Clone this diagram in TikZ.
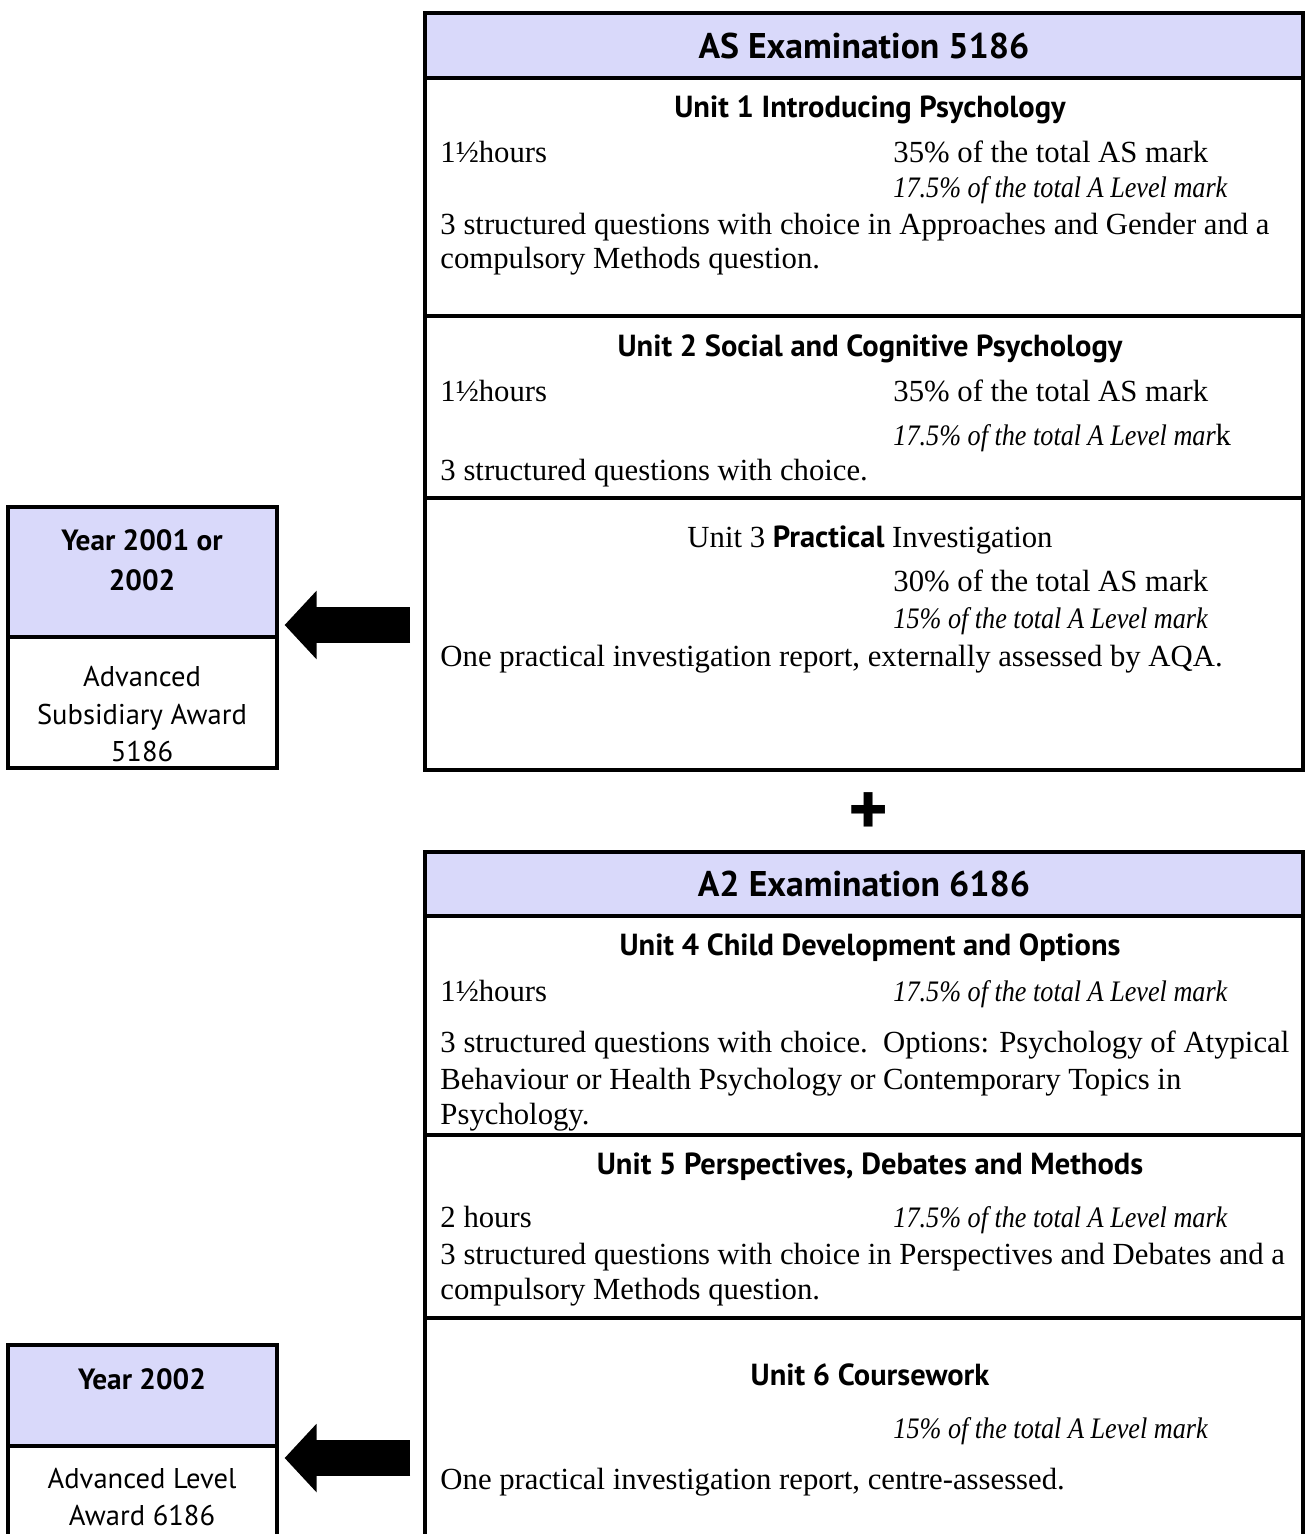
\documentclass[tikz,border=0pt]{standalone}
\usepackage{fontspec}
\setmainfont{Liberation Serif}
\newfontfamily\headfont{PT Sans}
\newfontface\sharefont{Liberation Serif Italic}[FakeStretch=0.88]
\usetikzlibrary{positioning,fit,arrows.meta}
\definecolor{headblue}{RGB}{217,217,250}

\tikzset{
  sect/.style={draw, line width=1.4pt, inner sep=0pt},
  headsect/.style={sect, fill=headblue},
  title/.style={font=\headfont\bfseries\fontsize{15}{18}\selectfont},
  unithead/.style={font=\headfont\bfseries\fontsize{12.8}{15}\selectfont, anchor=base},
  body/.style={font=\fontsize{12.9}{15}\selectfont, anchor=base west, inner sep=0pt},
  share/.style={body, font=\sharefont\fontsize{12.5}{15}\selectfont},
  award/.style={font=\headfont\fontsize{12}{15.7}\selectfont, align=center, anchor=north},
  bigarrow/.style={line width=15pt, -{Triangle[length=13.4pt,width=28pt]},
                   shorten >=2.5pt, shorten <=5.5pt}
}

\begin{document}
\begin{tikzpicture}[x=0.42pt, y=-0.42pt]
    \useasboundingbox (0,0) rectangle (1305,1534);

    % AS column
    \node[headsect, fit={(425,13) (1303,78)}] (asHead) {};
    \node[sect, fit={(425,78) (1303,316)}] (unitOne) {};
    \node[sect, fit={(425,316) (1303,498)}] (unitTwo) {};
    \node[sect, fit={(425,498) (1303,770)}] (unitThree) {};
    \node[title] (asTitle) at (asHead.center) {AS Examination 5186};

    \node[unithead] (u1Head) at (870,117) {Unit 1 Introducing Psychology};
    \node[body] (u1Time) at (440,162) {1½hours};
    \node[body] (u1As) at (893,162) {35\% of the total AS mark};
    \node[share] (u1A) at (893,197) {17.5\% of the total A Level mark};
    \node[body] (u1Text1) at (440,234) {3 structured questions with choice in Approaches and Gender and a};
    \node[body] (u1Text2) at (440,268) {compulsory Methods question.};

    \node[unithead] (u2Head) at (870,356) {Unit 2 Social and Cognitive Psychology};
    \node[body] (u2Time) at (440,401) {1½hours};
    \node[body] (u2As) at (893,401) {35\% of the total AS mark};
    \node[body] (u2A) at (893,445) {{\sharefont\fontsize{12.5}{15}\selectfont 17.5\% of the total A Level mar}k};
    \node[body] (u2Text) at (440,480) {3 structured questions with choice.};

    \node[body, anchor=base] (u3Head) at (870,547) {Unit 3 {\headfont\bfseries\fontsize{12.8}{15}\selectfont Practical} Investigation};
    \node[body] (u3As) at (893,591) {30\% of the total AS mark};
    \node[share] (u3A) at (893,628) {15\% of the total A Level mark};
    \node[body] (u3Text) at (440,666) {One practical investigation report, externally assessed by AQA.};

    \node[font=\headfont\bfseries\fontsize{32}{32}\selectfont] (plus) at (869,814) {+};

    % A2 column
    \node[headsect, fit={(425,852) (1303,916)}] (a2Head) {};
    \node[sect, fit={(425,916) (1303,1135)}] (unitFour) {};
    \node[sect, fit={(425,1135) (1303,1318)}] (unitFive) {};
    \node[sect, fit={(425,1318) (1303,1560)}] (unitSix) {};
    \node[title] (a2Title) at (a2Head.center) {A2 Examination 6186};

    \node[unithead] (u4Head) at (870,955) {Unit 4 Child Development and Options};
    \node[body] (u4Time) at (440,1001) {1½hours};
    \node[share] (u4A) at (893,1001) {17.5\% of the total A Level mark};
    \node[body] (u4Text1) at (440,1052) {3 structured questions with choice.\ \ Options: Psychology of Atypical};
    \node[body] (u4Text2) at (440,1089) {Behaviour or Health Psychology or Contemporary Topics in};
    \node[body] (u4Text3) at (440,1124) {Psychology.};

    \node[unithead] (u5Head) at (870,1174) {Unit 5 Perspectives, Debates and Methods};
    \node[body] (u5Time) at (440,1227) {2 hours};
    \node[share] (u5A) at (893,1227) {17.5\% of the total A Level mark};
    \node[body] (u5Text1) at (440,1264) {3 structured questions with choice in Perspectives and Debates and a};
    \node[body] (u5Text2) at (440,1299) {compulsory Methods question.};

    \node[unithead] (u6Head) at (870,1385) {Unit 6 Coursework};
    \node[share] (u6A) at (893,1438) {15\% of the total A Level mark};
    \node[body] (u6Text) at (440,1489) {One practical investigation report, centre-assessed.};

    % awards
    \node[headsect, fit={(8,507) (277,637)}] (asYear) {};
    \node[sect, fit={(8,637) (277,768)}] (asAward) {};
    \node[award, font=\headfont\bfseries\fontsize{12.3}{16.8}\selectfont] (asYearText) at (142,521) {Year 2001 or\\2002};
    \node[award] (asAwardText) at (142,658) {Advanced\\Subsidiary Award\\5186};

    \node[headsect, fit={(8,1345) (277,1446)}] (a2Year) {};
    \node[sect, fit={(8,1446) (277,1560)}] (a2Award) {};
    \node[award, font=\headfont\bfseries\fontsize{12.3}{16.8}\selectfont] (a2YearText) at (142,1360) {Year 2002};
    \node[award, inner sep=1pt] (a2AwardText) at (142,1465) {Advanced Level\\Award 6186};

    \draw[bigarrow] (unitThree.west |- 0,625) -- (asYear.east |- 0,625);
    \draw[bigarrow] (unitSix.west |- 0,1458) -- (a2Year.east |- 0,1458);
\end{tikzpicture}
\end{document}
